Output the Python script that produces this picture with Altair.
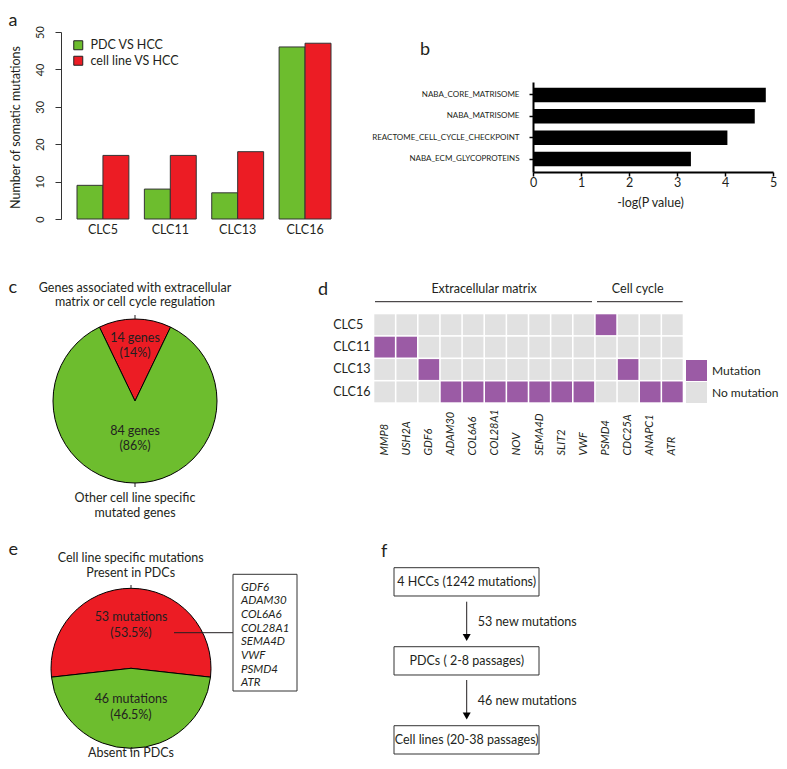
import math
import altair as alt
import pandas as pd

# ---------------- data ----------------
samples = ["CLC5", "CLC11", "CLC13", "CLC16"]
series_names = ["PDC VS HCC", "cell line VS HCC"]
pdc_vs_hcc = [9, 8, 7, 46]
cellline_vs_hcc = [17, 17, 18, 47]

gene_sets = ["NABA_CORE_MATRISOME", "NABA_MATRISOME",
             "REACTOME_CELL_CYCLE_CHECKPOINT", "NABA_ECM_GLYCOPROTEINS"]
neg_log_p = [4.85, 4.62, 4.05, 3.29]

pie_c_labels = ["Genes associated with extracellular matrix or cell cycle regulation",
                "Other cell line specific mutated genes"]
pie_c_counts = [14, 84]

genes = ["MMP8", "USH2A", "GDF6", "ADAM30", "COL6A6", "COL28A1", "NOV",
         "SEMA4D", "SLIT2", "VWF", "PSMD4", "CDC25A", "ANAPC1", "ATR"]
mutated = {
    "CLC5": ["PSMD4"],
    "CLC11": ["MMP8", "USH2A"],
    "CLC13": ["GDF6", "CDC25A"],
    "CLC16": ["ADAM30", "COL6A6", "COL28A1", "NOV", "SEMA4D", "SLIT2", "VWF", "ANAPC1", "ATR"],
}
status_names = ["Mutation", "No mutation"]

pie_e_labels = ["Present in PDCs", "Absent in PDCs"]
pie_e_counts = [53, 46]
present_genes = ["GDF6", "ADAM30", "COL6A6", "COL28A1", "SEMA4D", "VWF", "PSMD4", "ATR"]

flow_steps = ["4 HCCs (1242 mutations)", "PDCs ( 2-8 passages)", "Cell lines (20-38 passages)"]
flow_new = ["53 new mutations", "46 new mutations"]

# ---------------- style ----------------
FONT = "Lato"
INK = "#231f20"
RED = "#ec1c24"
GREEN = "#6dbd2e"
PURPLE = "#9b5ba5"
GREY = "#e1e1e1"
FS = 12.5

one = pd.DataFrame({"k": [0]})


def label(text, x, y, size=FS, align="center", baseline="alphabetic",
          style="normal", line_height=None, color=INK):
    kw = dict(text=text, align=align, baseline=baseline, fontSize=size,
              font=FONT, fontStyle=style, color=color)
    if line_height:
        kw["lineHeight"] = line_height
    return alt.Chart(one).mark_text(**kw).encode(x=alt.value(x), y=alt.value(y))


def hline(x1, x2, y, w=1, color=INK):
    return alt.Chart(one).mark_rule(color=color, strokeWidth=w).encode(
        x=alt.value(x1), x2=alt.value(x2), y=alt.value(y))


def vline(x, y1, y2, w=1, color=INK):
    return alt.Chart(one).mark_rule(color=color, strokeWidth=w).encode(
        x=alt.value(x), y=alt.value(y1), y2=alt.value(y2))


layers = []

# ---------------- panel a ----------------
df_a = pd.DataFrame({
    "sample": samples * 2,
    "series": [series_names[0]] * 4 + [series_names[1]] * 4,
    "count": pdc_vs_hcc + cellline_vs_hcc,
})
bars_a = alt.Chart(df_a).mark_bar(stroke="#333", strokeWidth=1).encode(
    x=alt.X("sample:N", sort=samples,
            scale=alt.Scale(range=[69, 323], paddingInner=0.23, paddingOuter=0),
            axis=alt.Axis(orient="bottom", offset=-542, title=None, domain=False,
                          ticks=False, tickSize=0, labelAngle=0, labelPadding=10.7,
                          labelBaseline="middle", labelFontSize=FS, labelColor=INK,
                          grid=False)),
    xOffset=alt.XOffset("series:N", sort=series_names,
                        scale=alt.Scale(paddingInner=0, paddingOuter=0)),
    y=alt.Y("count:Q", scale=alt.Scale(domain=[0, 50], range=[211, 24], nice=False),
            axis=alt.Axis(orient="left", offset=-53, values=[0, 10, 20, 30, 40, 50],
                          tickSize=6, tickColor="#333", domainColor="#333",
                          labelAngle=270, labelAlign="center", labelBaseline="middle",
                          labelPadding=15, labelFontSize=11, labelColor=INK,
                          labelFlush=False, grid=False,
                          title="Number of somatic mutations", titleAngle=270,
                          titleX=-46, titleY=119, titleAlign="center",
                          titleBaseline="middle", titleFontSize=FS,
                          titleFontWeight="normal", titleColor=INK)),
    color=alt.Color("series:N",
                    scale=alt.Scale(domain=series_names, range=[GREEN, RED]),
                    legend=alt.Legend(orient="none", legendX=64, legendY=31, title=None,
                                      symbolType="square", symbolSize=81,
                                      symbolStrokeColor="#222", symbolStrokeWidth=1,
                                      labelFontSize=FS, labelOffset=6, rowPadding=1.5,
                                      padding=0, labelColor=INK)),
)
layers.append(bars_a)
layers.append(label("a", 0.5, 18, size=18, align="left"))

# ---------------- panel b ----------------
df_b = pd.DataFrame({"set": gene_sets, "v": neg_log_p})
bars_b = alt.Chart(df_b).mark_bar(color="black").encode(
    y=alt.Y("set:N", sort=gene_sets,
            scale=alt.Scale(range=[74, 164], paddingInner=0.32, paddingOuter=0.263),
            axis=alt.Axis(orient="left", offset=-525, title=None, domainColor="black",
                          domainWidth=2, tickColor="black", tickWidth=1.5, tickSize=4,
                          labelPadding=10, labelFontSize=8, labelColor=INK, grid=False)),
    x=alt.X("v:Q", scale=alt.Scale(domain=[0, 5], range=[525, 765], nice=False),
            axis=alt.Axis(orient="bottom", offset=-589, values=[0, 1, 2, 3, 4, 5],
                          title="-log(P value)", domainColor="black", domainWidth=2,
                          tickColor="black", tickWidth=1.5, tickSize=4, labelPadding=6,
                          labelBaseline="middle", labelFontSize=FS, labelColor=INK,
                          labelFlush=False, grid=False, titleX=642, titleY=30,
                          titleBaseline="middle", titleAlign="center", titleFontSize=FS,
                          titleFontWeight="normal", titleColor=INK)),
)
layers.append(bars_b)
layers.append(label("b", 412, 47, size=18, align="left"))

# ---------------- panel c ----------------
df_c = pd.DataFrame({"cat": pie_c_labels, "n": pie_c_counts, "k": [0, 1]})
start_c = -math.pi * pie_c_counts[0] / sum(pie_c_counts)
pie_c = alt.Chart(df_c).mark_arc(radius=82, stroke="black", strokeWidth=1, x=127, y=393).encode(
    theta=alt.Theta("n:Q", stack=True,
                    scale=alt.Scale(range=[start_c, start_c + 2 * math.pi], nice=False)),
    color=alt.Color("cat:N", scale=alt.Scale(domain=pie_c_labels, range=[RED, GREEN]),
                    legend=None),
    order=alt.Order("k:Q"),
)
layers += [
    pie_c,
    label("c", 0.5, 285, size=18, align="left"),
    label(["Genes associated with extracellular", "matrix or cell cycle regulation"],
          127, 283.7, line_height=14.3),
    vline(127, 307, 311),
    vline(127, 475, 479),
    label(["14 genes", "(14%)"], 127, 333.7, line_height=15.6),
    label(["84 genes", "(86%)"], 127, 427, line_height=15),
    label(["Other cell line specific", "mutated genes"], 127, 493.7, line_height=15),
]

# ---------------- panel d ----------------
rows = []
for s in samples:
    for g in genes:
        rows.append({"sample": s, "gene": g,
                     "status": status_names[0] if g in mutated[s] else status_names[1]})
df_d = pd.DataFrame(rows)
heat = alt.Chart(df_d).mark_rect().encode(
    x=alt.X("gene:N", sort=genes,
            scale=alt.Scale(range=[366.3, 674.7], paddingInner=0.07, paddingOuter=0),
            axis=alt.Axis(orient="bottom", offset=-358.7, title=None, domain=False,
                          ticks=False, tickSize=0, labelAngle=270, labelAlign="left",
                          labelBaseline="middle", labelPadding=52.7,
                          labelFontStyle="italic", labelFontSize=11, labelColor=INK,
                          labelOverlap=False, grid=False)),
    y=alt.Y("sample:N", sort=samples,
            scale=alt.Scale(range=[306.3, 394.3], paddingInner=0.07, paddingOuter=0),
            axis=alt.Axis(orient="left", offset=-366.3, title=None, domain=False,
                          ticks=False, tickSize=0, labelAlign="left", labelPadding=41.6,
                          labelFontSize=FS, labelColor=INK, grid=False)),
    color=alt.Color("status:N", scale=alt.Scale(domain=status_names, range=[PURPLE, GREY]),
                    legend=alt.Legend(orient="none", legendX=678, legendY=352, title=None,
                                      symbolType="square", symbolSize=441,
                                      symbolStrokeWidth=0, labelFontSize=12, labelOffset=5,
                                      rowPadding=1, padding=0, labelColor=INK)),
)
layers += [
    heat,
    label("d", 310, 287, size=18, align="left"),
    label("Extracellular matrix", 476, 285.3),
    label("Cell cycle", 629.7, 285.3),
    hline(367, 584, 293.7),
    hline(589, 674.7, 293.7),
]

# ---------------- panel e ----------------
df_e = pd.DataFrame({"cat": pie_e_labels, "n": pie_e_counts, "k": [0, 1]})
start_e = -math.pi * pie_e_counts[0] / sum(pie_e_counts)
pie_e = alt.Chart(df_e).mark_arc(radius=80, stroke="black", strokeWidth=1, x=123, y=660.3).encode(
    theta=alt.Theta("n:Q", stack=True,
                    scale=alt.Scale(range=[start_e, start_e + 2 * math.pi], nice=False)),
    color=alt.Color("cat:N", scale=alt.Scale(domain=pie_e_labels, range=[RED, GREEN]),
                    legend=None),
    order=alt.Order("k:Q"),
)
layers += [
    pie_e,
    label("e", 0.5, 547, size=18, align="left"),
    label(["Cell line specific mutations", "Present in PDCs"], 122.7, 554.3, line_height=15),
    vline(123, 577, 580.3),
    vline(123, 740.3, 743.7),
    label(["53 mutations", "(53.5%)"], 123, 613, line_height=15.7),
    label(["46 mutations", "(46.5%)"], 123, 695.3, line_height=15.7),
    label("Absent in PDCs", 123, 749),
    hline(166, 225, 624.7),
    alt.Chart(one).mark_rect(fillOpacity=0, stroke="#333", strokeWidth=1).encode(
        x=alt.value(225), x2=alt.value(289), y=alt.value(566.3), y2=alt.value(683)),
    label(present_genes, 233, 582.5, size=11.5, align="left", style="italic",
          line_height=13.67),
]

# ---------------- panel f ----------------
df_f = pd.DataFrame({"step": flow_steps})
fy = alt.Y("step:N", sort=flow_steps,
           scale=alt.Scale(range=[559.7, 746], paddingInner=0.642, paddingOuter=0),
           axis=None)
box = alt.Chart(df_f).mark_rect(fill="white", stroke="#333", strokeWidth=1).encode(
    y=fy, x=alt.value(386), x2=alt.value(531))
boxtxt = alt.Chart(df_f).mark_text(fontSize=FS, font=FONT, color=INK).encode(
    y=fy, x=alt.value(458.7), text="step:N")
layers += [
    alt.layer(box, boxtxt),
    label("f", 373, 549, size=18, align="left"),
    vline(458.7, 593.7, 628),
    vline(458.7, 672, 706),
    alt.Chart(one).mark_point(shape="triangle-down", filled=True, size=64, color="black",
                              opacity=1).encode(x=alt.value(458.7), y=alt.value(629.5)),
    alt.Chart(one).mark_point(shape="triangle-down", filled=True, size=64, color="black",
                              opacity=1).encode(x=alt.value(458.7), y=alt.value(708)),
    label(flow_new[0], 469.7, 613.7, align="left", baseline="middle"),
    label(flow_new[1], 469.7, 692.7, align="left", baseline="middle"),
]

chart = alt.layer(*layers).resolve_scale(
    x="independent", y="independent", color="independent",
    theta="independent", xOffset="independent",
).properties(
    width=771, height=753, autosize=alt.AutoSizeParams(type="none"), padding=0,
).configure_view(stroke=None).configure_axis(
    labelFont=FONT, titleFont=FONT, grid=False,
).configure_legend(labelFont=FONT)

chart.save("out.html", embed_options={"renderer": "svg", "actions": False})
